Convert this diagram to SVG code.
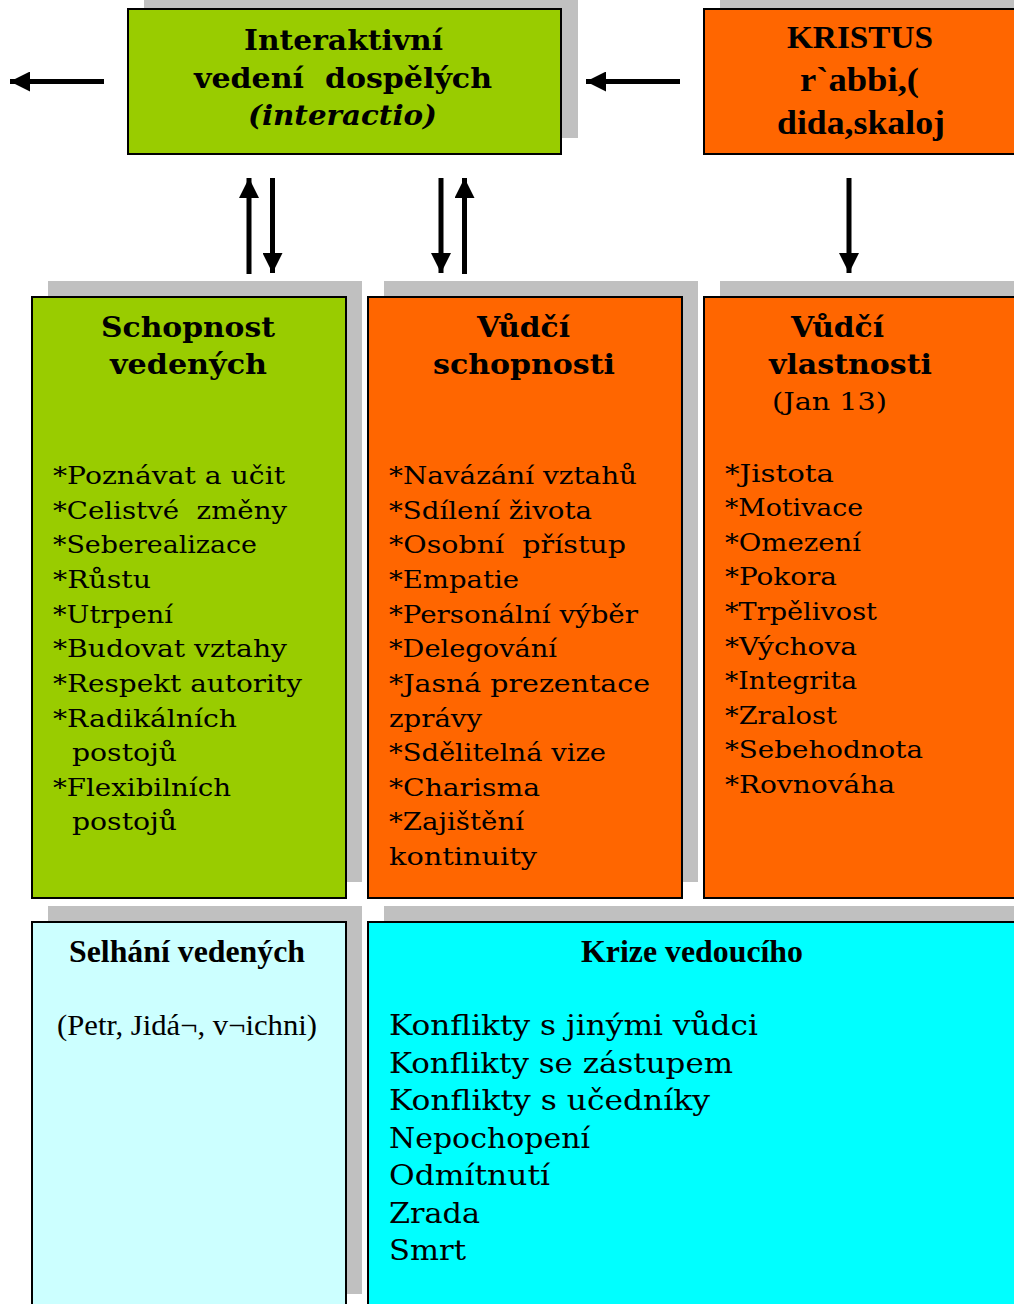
<svg xmlns="http://www.w3.org/2000/svg" width="1014" height="1304" viewBox="0 0 1014 1304">
<style>
.sh{fill:#C0C0C0}
.bx{stroke:#000;stroke-width:2}
.g{fill:#99CC00}.o{fill:#FF6600}.lc{fill:#CCFFFF}.c{fill:#00FFFF}
text{fill:#000}
.h{font-family:"DejaVu Serif",serif;font-weight:bold;font-size:27px}
.hi{font-family:"DejaVu Serif",serif;font-weight:bold;font-style:italic;font-size:27px}
.b{font-family:"DejaVu Serif",serif;font-size:25px}
.k{font-family:"DejaVu Serif",serif;font-size:28px}
.t{font-family:"Liberation Serif","Times New Roman",serif}
.tb{font-family:"Liberation Serif","Times New Roman",serif;font-weight:bold}
.ar{stroke:#000;stroke-width:5;fill:none}
</style>
<defs>
<marker id="ah" markerUnits="userSpaceOnUse" markerWidth="20" markerHeight="20" viewBox="0 0 18 18" refX="18" refY="9" orient="auto">
<path d="M0,0 L18,9 L0,18 Z" fill="#000"/>
</marker>
</defs>
<rect width="1014" height="1304" fill="#fff"/>

<g id="node-interaktivni">
<rect class="sh" x="144" y="-7" width="434" height="145"/>
<rect class="bx g" x="128" y="9" width="433" height="145"/>
<text class="h" x="244" y="50" textLength="199" lengthAdjust="spacingAndGlyphs">Interaktivní</text>
<text class="h" x="194" y="88" textLength="298" lengthAdjust="spacingAndGlyphs" xml:space="preserve">vedení  dospělých</text>
<text class="hi" x="248" y="125" textLength="189" lengthAdjust="spacingAndGlyphs">(interactio)</text>
</g>

<g id="node-kristus">
<rect class="sh" x="720" y="-7" width="310" height="145"/>
<rect class="bx o" x="704" y="9" width="320" height="145"/>
<text class="tb" x="787" y="48" font-size="32" textLength="146" lengthAdjust="spacingAndGlyphs">KRISTUS</text>
<text class="tb" x="800" y="91" font-size="34" textLength="119" lengthAdjust="spacingAndGlyphs">r`abbi,(</text>
<text class="tb" x="777" y="134" font-size="34" textLength="168" lengthAdjust="spacingAndGlyphs">dida,skaloj</text>
</g>

<g id="node-schopnost-vedenych">
<rect class="sh" x="48" y="281" width="314" height="601"/>
<rect class="bx g" x="32" y="297" width="314" height="601"/>
<text class="h" x="101" y="337" textLength="174" lengthAdjust="spacingAndGlyphs">Schopnost</text>
<text class="h" x="110" y="374" textLength="157" lengthAdjust="spacingAndGlyphs">vedených</text>
<g class="b">
<text x="53" y="484" textLength="232" lengthAdjust="spacingAndGlyphs">*Poznávat a učit</text>
<text x="53" y="519" textLength="234" lengthAdjust="spacingAndGlyphs" xml:space="preserve">*Celistvé  změny</text>
<text x="53" y="553" textLength="204" lengthAdjust="spacingAndGlyphs">*Seberealizace</text>
<text x="53" y="588" textLength="98" lengthAdjust="spacingAndGlyphs">*Růstu</text>
<text x="53" y="623" textLength="120" lengthAdjust="spacingAndGlyphs">*Utrpení</text>
<text x="53" y="657" textLength="234" lengthAdjust="spacingAndGlyphs">*Budovat vztahy</text>
<text x="53" y="692" textLength="249" lengthAdjust="spacingAndGlyphs">*Respekt autority</text>
<text x="53" y="727" textLength="184" lengthAdjust="spacingAndGlyphs">*Radikálních</text>
<text x="72" y="761" textLength="105" lengthAdjust="spacingAndGlyphs">postojů</text>
<text x="53" y="796" textLength="178" lengthAdjust="spacingAndGlyphs">*Flexibilních</text>
<text x="72" y="830" textLength="105" lengthAdjust="spacingAndGlyphs">postojů</text>
</g>
</g>

<g id="node-vudci-schopnosti">
<rect class="sh" x="384" y="281" width="314" height="601"/>
<rect class="bx o" x="368" y="297" width="314" height="601"/>
<text class="h" x="477" y="337" textLength="93" lengthAdjust="spacingAndGlyphs">Vůdčí</text>
<text class="h" x="433" y="374" textLength="182" lengthAdjust="spacingAndGlyphs">schopnosti</text>
<g class="b">
<text x="389" y="484" textLength="248" lengthAdjust="spacingAndGlyphs">*Navázání vztahů</text>
<text x="389" y="519" textLength="203" lengthAdjust="spacingAndGlyphs">*Sdílení života</text>
<text x="389" y="553" textLength="237" lengthAdjust="spacingAndGlyphs" xml:space="preserve">*Osobní  přístup</text>
<text x="389" y="588" textLength="130" lengthAdjust="spacingAndGlyphs">*Empatie</text>
<text x="389" y="623" textLength="249" lengthAdjust="spacingAndGlyphs">*Personální výběr</text>
<text x="389" y="657" textLength="168" lengthAdjust="spacingAndGlyphs">*Delegování</text>
<text x="389" y="692" textLength="261" lengthAdjust="spacingAndGlyphs">*Jasná prezentace</text>
<text x="389" y="727" textLength="93" lengthAdjust="spacingAndGlyphs">zprávy</text>
<text x="389" y="761" textLength="217" lengthAdjust="spacingAndGlyphs">*Sdělitelná vize</text>
<text x="389" y="796" textLength="151" lengthAdjust="spacingAndGlyphs">*Charisma</text>
<text x="389" y="830" textLength="135" lengthAdjust="spacingAndGlyphs">*Zajištění</text>
<text x="389" y="865" textLength="148" lengthAdjust="spacingAndGlyphs">kontinuity</text>
</g>
</g>

<g id="node-vudci-vlastnosti">
<rect class="sh" x="720" y="281" width="310" height="601"/>
<rect class="bx o" x="704" y="297" width="320" height="601"/>
<text class="h" x="791" y="337" textLength="93" lengthAdjust="spacingAndGlyphs">Vůdčí</text>
<text class="h" x="769" y="374" textLength="163" lengthAdjust="spacingAndGlyphs">vlastnosti</text>
<text class="b" x="772" y="410" textLength="115" lengthAdjust="spacingAndGlyphs">(Jan 13)</text>
<g class="b">
<text x="725" y="482" textLength="109" lengthAdjust="spacingAndGlyphs">*Jistota</text>
<text x="725" y="516" textLength="138" lengthAdjust="spacingAndGlyphs">*Motivace</text>
<text x="725" y="551" textLength="136" lengthAdjust="spacingAndGlyphs">*Omezení</text>
<text x="725" y="585" textLength="112" lengthAdjust="spacingAndGlyphs">*Pokora</text>
<text x="725" y="620" textLength="152" lengthAdjust="spacingAndGlyphs">*Trpělivost</text>
<text x="725" y="655" textLength="132" lengthAdjust="spacingAndGlyphs">*Výchova</text>
<text x="725" y="689" textLength="132" lengthAdjust="spacingAndGlyphs">*Integrita</text>
<text x="725" y="724" textLength="112" lengthAdjust="spacingAndGlyphs">*Zralost</text>
<text x="725" y="758" textLength="198" lengthAdjust="spacingAndGlyphs">*Sebehodnota</text>
<text x="725" y="793" textLength="170" lengthAdjust="spacingAndGlyphs">*Rovnováha</text>
</g>
</g>

<g id="node-selhani">
<rect class="sh" x="48" y="906" width="314" height="388"/>
<rect class="bx lc" x="32" y="922" width="314" height="400"/>
<text class="tb" x="69" y="962" font-size="32" textLength="236" lengthAdjust="spacingAndGlyphs">Selhání vedených</text>
<text class="t" x="57" y="1035" font-size="30" textLength="260" lengthAdjust="spacingAndGlyphs">(Petr, Jidá¬, v¬ichni)</text>
</g>

<g id="node-krize">
<rect class="sh" x="384" y="906" width="646" height="388"/>
<rect class="bx c" x="368" y="922" width="660" height="400"/>
<text class="tb" x="581" y="962" font-size="32" textLength="222" lengthAdjust="spacingAndGlyphs">Krize vedoucího</text>
<g class="k">
<text x="389" y="1035" textLength="369" lengthAdjust="spacingAndGlyphs">Konflikty s jinými vůdci</text>
<text x="389" y="1073" textLength="344" lengthAdjust="spacingAndGlyphs">Konflikty se zástupem</text>
<text x="389" y="1110" textLength="321" lengthAdjust="spacingAndGlyphs">Konflikty s učedníky</text>
<text x="389" y="1148" textLength="201" lengthAdjust="spacingAndGlyphs">Nepochopení</text>
<text x="389" y="1185" textLength="161" lengthAdjust="spacingAndGlyphs">Odmítnutí</text>
<text x="389" y="1223" textLength="91" lengthAdjust="spacingAndGlyphs">Zrada</text>
<text x="389" y="1260" textLength="77" lengthAdjust="spacingAndGlyphs">Smrt</text>
</g>
</g>

<g id="connectors">
<path class="ar" d="M104,81.5 H10" marker-end="url(#ah)"/>
<path class="ar" d="M680,81.5 H586" marker-end="url(#ah)"/>
<path class="ar" d="M249,274 V178" marker-end="url(#ah)"/>
<path class="ar" d="M272.5,178 V273" marker-end="url(#ah)"/>
<path class="ar" d="M441,178 V273" marker-end="url(#ah)"/>
<path class="ar" d="M464.5,274 V178" marker-end="url(#ah)"/>
<path class="ar" d="M849,178 V273" marker-end="url(#ah)"/>
</g>
</svg>
